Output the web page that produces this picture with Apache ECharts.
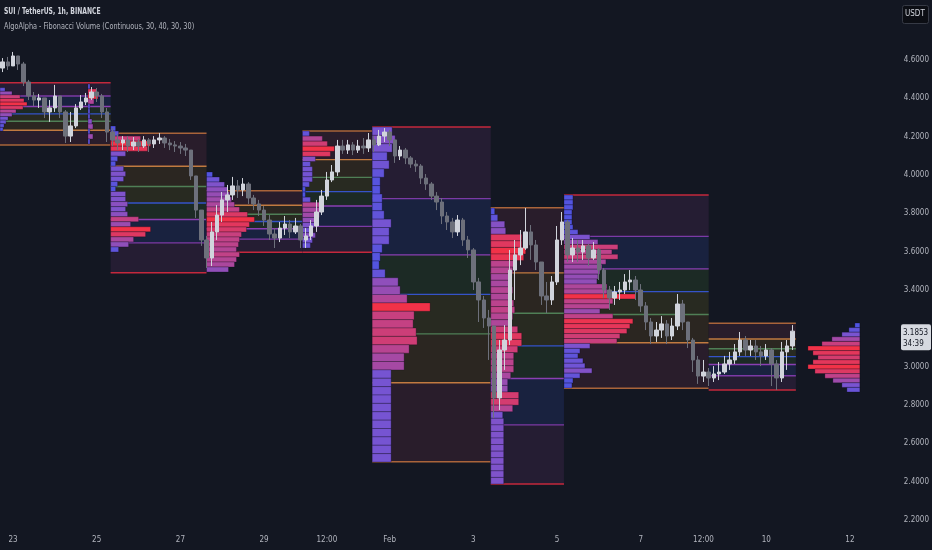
<!DOCTYPE html>
<html><head><meta charset="utf-8">
<script src="https://cdn.jsdelivr.net/npm/echarts@6.0.0/dist/echarts.min.js"></script>
<style>html,body{margin:0;padding:0;background:#131722}#c{width:932px;height:550px}</style>
</head><body><div id="c"></div><script>
// ---- data ----
const startHour = -6, stepHours = 3;   // hours since Jan 23 00:00, 3h candles
const firstOpen = 4.558;
const closes = [4.590,4.569,4.621,4.579,4.485,4.412,4.391,4.402,4.329,4.350,
4.412,4.329,4.203,4.256,4.350,4.381,4.402,4.433,4.412,4.329,
4.224,4.183,4.167,4.183,4.151,4.172,4.151,4.183,4.162,4.183,
4.193,4.167,4.157,4.151,4.141,4.130,3.995,3.817,3.661,3.567,
3.703,3.791,3.870,3.896,3.943,3.922,3.953,3.880,3.849,3.817,
3.765,3.692,3.671,3.723,3.744,3.703,3.734,3.661,3.682,3.734,
3.807,3.890,3.974,4.016,4.151,4.130,4.157,4.130,4.151,4.141,
4.183,4.157,4.203,4.224,4.183,4.099,4.130,4.089,4.057,4.047,
3.984,3.953,3.890,3.859,3.786,3.755,3.703,3.765,3.661,3.609,
3.442,3.348,3.254,3.212,2.837,3.087,3.139,3.504,3.583,3.619,
3.703,3.635,3.546,3.369,3.348,3.442,3.661,3.755,3.583,3.619,
3.598,3.630,3.567,3.609,3.504,3.400,3.358,3.390,3.400,3.442,
3.452,3.400,3.317,3.233,3.160,3.191,3.223,3.160,3.212,3.327,
3.233,3.139,3.035,2.951,2.972,2.941,2.962,2.972,3.014,3.035,
3.077,3.139,3.087,3.108,3.077,3.056,3.087,3.014,2.941,3.077,
3.108,3.1853];
const highs = [4.610,4.616,4.642,4.621,4.590,4.496,4.433,4.423,4.402,4.391,
4.470,4.412,4.339,4.329,4.370,4.417,4.428,4.459,4.454,4.423,
4.350,4.245,4.214,4.203,4.203,4.198,4.188,4.203,4.193,4.203,
4.219,4.203,4.188,4.177,4.172,4.162,4.130,3.995,3.817,3.682,
3.755,3.843,3.911,3.948,3.990,3.974,3.984,3.963,3.896,3.870,
3.838,3.791,3.723,3.755,3.786,3.765,3.776,3.744,3.723,3.765,
3.870,3.922,4.016,4.052,4.183,4.183,4.183,4.172,4.183,4.193,
4.219,4.203,4.235,4.245,4.235,4.183,4.151,4.141,4.099,4.078,
4.057,4.005,3.963,3.911,3.880,3.807,3.776,3.791,3.776,3.682,
3.619,3.463,3.369,3.296,3.212,3.139,3.217,3.609,3.661,3.713,
3.828,3.739,3.661,3.546,3.442,3.473,3.734,3.807,3.765,3.671,
3.661,3.661,3.640,3.650,3.619,3.515,3.421,3.421,3.442,3.483,
3.504,3.473,3.431,3.337,3.254,3.233,3.264,3.243,3.254,3.379,
3.348,3.233,3.150,3.056,3.035,2.993,3.003,3.024,3.056,3.077,
3.118,3.181,3.160,3.139,3.139,3.108,3.118,3.097,3.035,3.129,
3.139,3.217];
const lows = [4.537,4.548,4.569,4.548,4.464,4.391,4.360,4.350,4.297,4.277,
4.329,4.297,4.167,4.172,4.245,4.339,4.365,4.391,4.381,4.297,
4.172,4.151,4.130,4.130,4.120,4.130,4.120,4.141,4.120,4.141,
4.162,4.141,4.130,4.120,4.110,4.099,3.974,3.776,3.630,3.515,
3.525,3.661,3.755,3.807,3.870,3.880,3.890,3.849,3.817,3.786,
3.734,3.661,3.619,3.650,3.687,3.671,3.692,3.619,3.619,3.661,
3.703,3.791,3.870,3.963,3.995,4.110,4.110,4.104,4.115,4.110,
4.120,4.120,4.151,4.172,4.151,4.063,4.078,4.057,4.037,4.016,
3.953,3.922,3.870,3.817,3.744,3.713,3.671,3.682,3.630,3.567,
3.400,3.233,3.202,3.035,2.732,2.774,2.983,3.113,3.348,3.530,
3.609,3.557,3.504,3.322,3.280,3.322,3.426,3.635,3.546,3.546,
3.546,3.557,3.525,3.557,3.452,3.358,3.296,3.322,3.348,3.379,
3.400,3.348,3.285,3.191,3.118,3.129,3.150,3.118,3.139,3.191,
3.191,3.097,2.972,2.910,2.920,2.899,2.920,2.930,2.962,2.983,
3.014,3.056,3.056,3.056,3.035,3.003,3.035,2.899,2.878,2.920,
2.983,3.087];

const timeTickHours = [0,48,96,144,180,216,264,312,360,396,432,480];
const timeTickLabels = ['23','25','27','29','12:00','Feb','3','5','7','12:00','10','12'];
const lastPrice = 3.1853;
const countdown = '34:39';

const fibLevels = [0,0.236,0.382,0.5,0.618,0.786,1];
const boxStart  = [-30, 56, 111, 166, 206, 274, 316, 399];
const boxEnd    = [56, 111, 166, 206, 274, 316, 399, 449];
const boxTop    = [4.4816,4.2176,3.9181,4.2296,4.2504,3.8294,3.8957,3.2262];
const boxBottom = [4.1565,3.4903,3.5967,3.5967,2.5042,2.3878,2.8871,2.8783];
const boxOrigin = ['bottom','top','top','top','bottom','top','bottom','top'];

const profileAnchor = [-8, 43, 56, 111, 166, 206, 274, 316, 485.7];
const profileDir    = [1,1,1,1,1,1,1,1,-1];
const profileTop    = [4.4555,4.4748,4.2557,4.0157,4.2296,4.2504,3.8278,3.8957,3.2278];
const profileBottom = [4.2296,4.1617,3.5983,3.4939,3.6191,2.5026,2.3878,2.8887,2.8678];
const pvA  = [6,13,21,25,28,24,17,13,9,7,5,4];
const pvA2 = [2,9,10,6,2,2,2,4,5,2,5,2];
const pvB  = [5,8,30,40,37,15,7,5,13,15,13,7,5,15,15,17,15,17,28,20,40,35,23,18,8];
const pvC  = [6,13,18,21,23,25,28,33,41,48,43,40,35,33,32,30,33,30,28,22];
const pvD  = [7,20,25,32,28,13,8,10,10,10,7,3,3,8,20,18,17,15,12,10,13,10,8];
const pvE  = [20,23,20,15,17,12,8,8,10,10,12,19,17,17,10,8,7,13,26,28,35,58,42,41,44,45,37,32,32,19,19,19,19,19,19,19,19,19,19,19];
const pvF  = [4,7,14,15,31,31,35,33,23,22,20,20,22,21,23,24,22,21,27,31,31,27,23,23,23,20,17,17,28,28,22,12,13,13,13,13,13,13,13,13,13,13];
const pvG  = [9,9,9,8,8,8,9,14,26,34,54,48,54,42,38,36,34,33,43,43,72,49,46,36,49,69,66,63,56,53,26,16,14,19,21,28,16,9,8];
const pvH  = [5,11,18,28,38,52,47,42,47,52,45,35,27,18,13];
const profileVolumes = [pvA,pvA2,pvB,pvC,pvD,pvE,pvF,pvG,pvH];

// ---- styles ----
const volToHours = 1/1.7458;
const levelColors = ['#a9643a','#c17a40','#4f7f56','#3553c9','#8a3fb3','#7c3aa6','#c4283c'];
const zoneColors  = ['#291d2b','#2b2621','#282a21','#1c2a25','#19223f','#251d33'];
const gradStops = [[0,[62,84,232]],[0.35,[122,84,208]],[0.68,[192,66,136]],[1,[242,50,72]]];
function gradColor(t){
  for(let k=1;k<gradStops.length;k++){
    if(t<=gradStops[k][0]){
      const a=gradStops[k-1], b=gradStops[k], u=(t-a[0])/(b[0]-a[0]);
      const c=a[1].map((v,j)=>Math.round(v+(b[1][j]-v)*u));
      return 'rgb('+c.join(',')+')';
    }
  }
  return 'rgb(242,50,72)';
}

// ---- build tables ----
const candleRows = closes.map((c,i)=>{
  const o = i===0 ? firstOpen : closes[i-1];
  return [startHour+i*stepHours, o, c, Math.min(lows[i],o,c), Math.max(highs[i],o,c)];
});
const boxRows = boxStart.map((s,i)=>[s, boxTop[i], i]);
const barRows = [];
profileVolumes.forEach((vols,p)=>{
  const mx = Math.max(...vols), n = vols.length;
  const h = (profileTop[p]-profileBottom[p])/n;
  vols.forEach((v,k)=>{
    const x0 = profileAnchor[p], x1 = x0 + profileDir[p]*v*volToHours;
    barRows.push([x0, profileTop[p]-k*h, x1, profileTop[p]-(k+1)*h, v/mx]);
  });
});

const chart = echarts.init(document.getElementById('c'), null, {renderer:'canvas'});
const FONT = '"DejaVu Sans Condensed","Liberation Sans Narrow",sans-serif';

function renderBox(params, api){
  const i = api.value(2);
  const cs = params.coordSys;
  const t = boxTop[i], b = boxBottom[i];
  const priceAt = f => boxOrigin[i]==='top' ? t-(t-b)*f : b+(t-b)*f;
  const children = [];
  for(let k=0;k<6;k++){
    const p1=priceAt(fibLevels[k]), p2=priceAt(fibLevels[k+1]);
    const a=api.coord([boxStart[i], Math.max(p1,p2)]);
    const c=api.coord([boxEnd[i], Math.min(p1,p2)]);
    const shape = echarts.graphic.clipRectByRect({x:a[0],y:a[1],width:c[0]-a[0],height:c[1]-a[1]},
      {x:cs.x,y:cs.y,width:cs.width,height:cs.height});
    if(shape) children.push({type:'rect', shape, style:{fill:zoneColors[k]}});
  }
  for(let k=0;k<7;k++){
    const p=priceAt(fibLevels[k]);
    const a=api.coord([boxStart[i], p]), c=api.coord([boxEnd[i], p]);
    children.push({type:'line', shape:{x1:Math.max(a[0],cs.x), y1:a[1], x2:c[0], y2:c[1]},
      style:{stroke:levelColors[k], lineWidth:1.4}});
  }
  return {type:'group', children};
}
function renderBar(params, api){
  const a = api.coord([api.value(0), api.value(1)]);
  const c = api.coord([api.value(2), api.value(3)]);
  const cs = params.coordSys;
  const shape = echarts.graphic.clipRectByRect({x:Math.min(a[0],c[0]), y:a[1], width:Math.abs(c[0]-a[0]), height:c[1]-a[1]},
     {x:cs.x,y:cs.y,width:cs.width,height:cs.height});
  if(!shape) return null;
  return {type:'rect', shape, style:{fill:gradColor(api.value(4)), stroke:'rgba(10,10,25,0.35)', lineWidth:0.8}};
}

chart.setOption({
  backgroundColor:'#131722',
  animation:false,
  grid:{left:0, right:34, top:0, bottom:30, containLabel:false},
  xAxis:{type:'value', min:-7.45, max:506.9,
    axisLine:{show:false}, axisTick:{show:false}, splitLine:{show:false},
    axisLabel:{customValues:timeTickHours, margin:16, color:'#b2b5be', fontSize:8, fontFamily:FONT,
      formatter:v=>{const k=timeTickHours.indexOf(v); return k>=0?timeTickLabels[k]:'';}}},
  yAxis:{type:'value', position:'right', min:2.2, max:4.913, interval:0.2,
    axisLine:{show:false}, axisTick:{show:false}, splitLine:{show:false},
    axisLabel:{showMaxLabel:false, margin:7, color:'#b2b5be', fontSize:8, fontFamily:FONT,
      formatter:v=>(Math.abs(v-3.2)<1e-6 || v>4.7)?'':v.toFixed(4)}},
  series:[
    {type:'custom', name:'boxes', data:boxRows, renderItem:renderBox, z:1, silent:true,
     encode:{x:0,y:1}},
    {type:'custom', name:'profiles', data:barRows, renderItem:renderBar, z:2, silent:true,
     encode:{x:[0,2],y:[1,3]}},
    {type:'candlestick', name:'SUIUSDT', data:candleRows, encode:{x:0,y:[1,2,3,4]}, z:3, barWidth:4,
     itemStyle:{color:'#d1d4dc', color0:'#6d707b', borderColor:'#d1d4dc', borderColor0:'#6d707b', borderWidth:1}}
  ]
});

const yPix = chart.convertToPixel({gridIndex:0}, [0, lastPrice])[1];
chart.setOption({
  graphic:[
    {type:'text', left:4, top:7, scaleX:0.71, style:{text:'SUI / TetherUS, 1h, BINANCE', fill:'#d1d4dc', font:'bold 9.5px "DejaVu Sans Condensed",sans-serif'}},
    {type:'text', left:4, top:22, scaleX:0.765, style:{text:'AlgoAlpha - Fibonacci Volume (Continuous, 30, 40, 30, 30)', fill:'#b2b5be', font:'9.5px "DejaVu Sans Condensed",sans-serif'}},
    {type:'rect', left:902, top:5, shape:{width:26, height:18, r:2}, style:{fill:'#0c0e14', stroke:'#363a45', lineWidth:1}},
    {type:'text', left:905, top:10, style:{text:'USDT', fill:'#d1d4dc', font:'8px '+FONT}},
    {type:'rect', left:901, top:yPix-7, shape:{width:30, height:26, r:2}, style:{fill:'#d6d9e0'}},
    {type:'text', left:903, top:yPix-4, style:{text:lastPrice.toFixed(4)+'\n'+countdown, fill:'#131722', font:'8px '+FONT, lineHeight:11}}
  ]
});
</script></body></html>
